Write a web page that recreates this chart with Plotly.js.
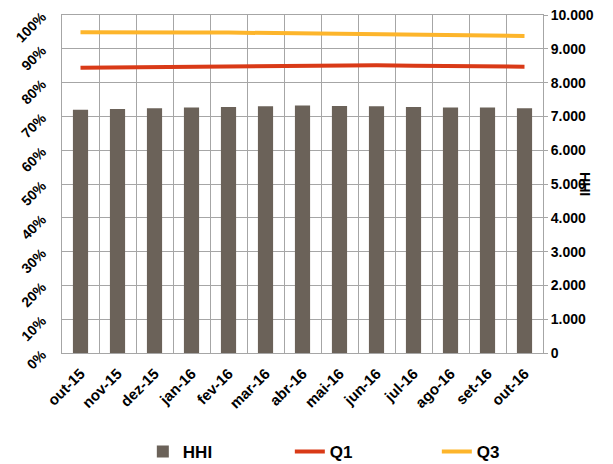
<!DOCTYPE html>
<html>
<head>
<meta charset="utf-8">
<script src="https://cdn.plot.ly/plotly-3.0.1.min.js"></script>
<style>html,body{margin:0;padding:0;background:#fff;}#chart{width:613px;height:464px;}</style>
</head>
<body>
<div id="chart"></div>
<script>
const categories = ["out-15","nov-15","dez-15","jan-16","fev-16","mar-16","abr-16","mai-16","jun-16","jul-16","ago-16","set-16","out-16"];
const hhi = [7200,7220,7240,7260,7280,7300,7320,7310,7300,7280,7260,7260,7240];
const q1 = [84.4,84.5,84.6,84.7,84.8,84.9,85.0,85.1,85.1,85.0,84.9,84.8,84.7];
const q3 = [94.9,94.8,94.8,94.8,94.8,94.7,94.6,94.5,94.4,94.3,94.1,94.0,93.8];
const leftTicks = [0,10,20,30,40,50,60,70,80,90,100];
const leftTickText = ["0%","10%","20%","30%","40%","50%","60%","70%","80%","90%","100%"];
const rightTicks = [0,1000,2000,3000,4000,5000,6000,7000,8000,9000,10000];
const rightTickText = ["0","1.000","2.000","3.000","4.000","5.000","6.000","7.000","8.000","9.000","10.000"];

const fam = "Liberation Sans, Arial, sans-serif";
const boldFont = (s) => ({family: fam, size: s, color: "#000", weight: "bold"});

const data = [
  {type: "bar", name: "HHI", x: categories, y: hhi, yaxis: "y2", marker: {color: "#6B6259"}},
  {type: "scatter", mode: "lines", name: "Q1", x: categories, y: q1, line: {color: "#D93A17", width: 4}},
  {type: "scatter", mode: "lines", name: "Q3", x: categories, y: q3, line: {color: "#FDB52B", width: 4}}
];

const layout = {
  width: 613, height: 464,
  margin: {l: 62, r: 70, t: 15, b: 111},
  paper_bgcolor: "#fff", plot_bgcolor: "#fff",
  bargap: 0.59,
  font: {family: fam, color: "#000"},
  showlegend: true,
  legend: {orientation: "h", xref: "container", yref: "container", x: 0.233, xanchor: "left", y: 0.026, yanchor: "middle",
           font: boldFont(17), entrywidth: 102, entrywidthmode: "pixels", traceorder: "normal"},
  xaxis: {type: "category", tickson: "boundaries", showgrid: true, gridcolor: "#A6A6A6", gridwidth: 1,
          tickangle: -45, ticks: "", showline: true, linecolor: "#A6A6A6", mirror: true, automargin: false,
          ticklabelstandoff: 5, tickfont: boldFont(15)},
  yaxis: {range: [0, 100], tickmode: "array", tickvals: leftTicks, ticktext: leftTickText, tickangle: -45,
          showgrid: true, gridcolor: "#A6A6A6", zeroline: false, showline: true, linecolor: "#A6A6A6",
          ticks: "", automargin: false, ticklabelstandoff: 16, tickfont: boldFont(14)},
  yaxis2: {overlaying: "y", side: "right", range: [0, 10000], tickmode: "array", tickvals: rightTicks, ticktext: rightTickText,
           showgrid: false, zeroline: false, showline: true, linecolor: "#A6A6A6",
           ticks: "outside", ticklen: 4, tickcolor: "#A6A6A6", automargin: false,
           tickfont: boldFont(14)},
  annotations: [{text: "HHI", xref: "paper", yref: "paper", x: 1.108, y: 0.5, showarrow: false,
                 textangle: 90, font: boldFont(14)}]
};

Plotly.newPlot("chart", data, layout, {displayModeBar: false, staticPlot: true});
</script>
</body>
</html>
